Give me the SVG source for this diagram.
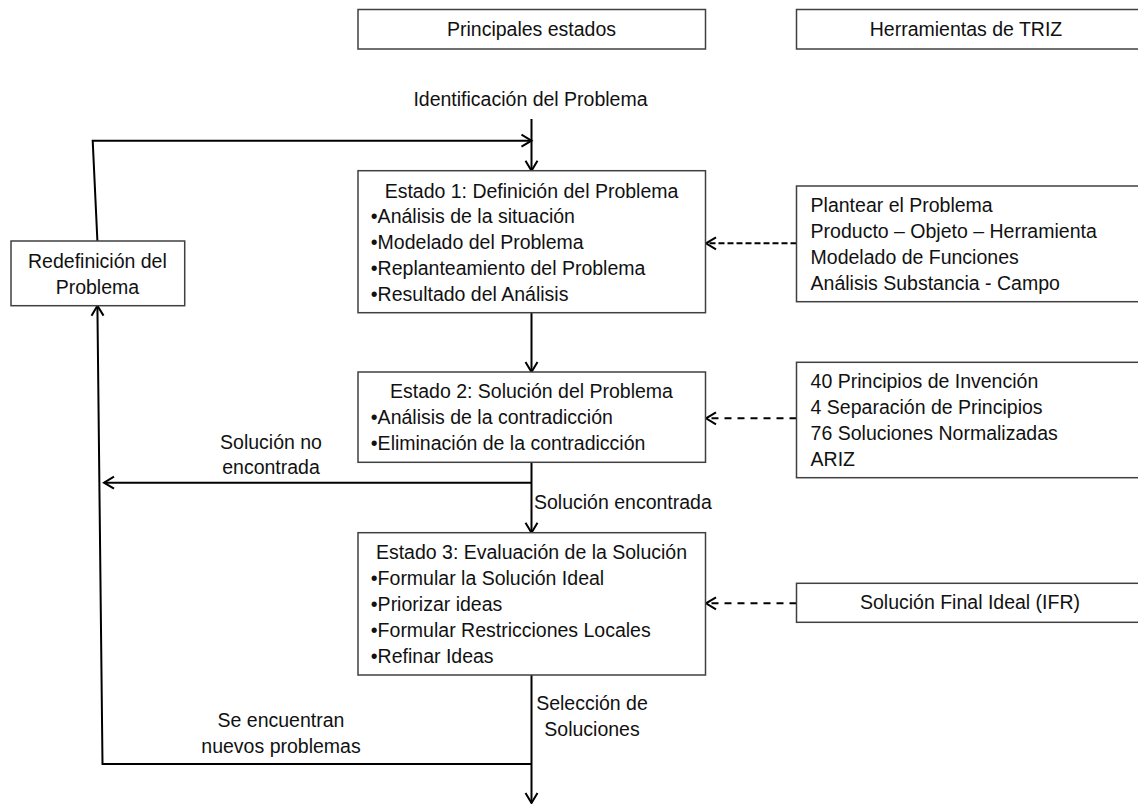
<svg xmlns="http://www.w3.org/2000/svg" width="1138" height="804" viewBox="0 0 1138 804">
  <style>
    .box { fill: #ffffff; stroke: #404040; stroke-width: 1.5; }
    .t { font-family: "Liberation Sans", Arial, sans-serif; font-size: 19.5px; fill: #111111; }
    .c { text-anchor: middle; }
    .line { fill: none; stroke: #000000; stroke-width: 2; }
    .dash1 { fill: none; stroke: #000000; stroke-width: 2; stroke-dasharray: 6 3; }
    .dash2 { fill: none; stroke: #000000; stroke-width: 2; stroke-dasharray: 7 6; }
  </style>
  <defs>
    <marker id="arrow" viewBox="-12 -8 14 16" refX="0" refY="0" markerWidth="14" markerHeight="16" markerUnits="userSpaceOnUse" orient="auto">
      <path d="M-10,-6 L0,0 L-10,6" fill="none" stroke="#000000" stroke-width="2"/>
    </marker>
  </defs>
  <rect width="1138" height="804" fill="#ffffff"/>

  <!-- column headers -->
  <g id="header-estados">
    <rect class="box" x="358" y="9.5" width="347.5" height="39.5"/>
    <text class="t c" x="531.5" y="35.5">Principales estados</text>
  </g>
  <g id="header-triz">
    <rect class="box" x="796.5" y="9.5" width="345" height="39.5"/>
    <text class="t c" x="966" y="35.5">Herramientas de TRIZ</text>
  </g>

  <!-- start label -->
  <g id="inicio">
    <text class="t c" x="530.5" y="106">Identificación del Problema</text>
  </g>

  <!-- connectors -->
  <g id="connectors">
    <path class="line" d="M531.5,119 L531.5,170.7" marker-end="url(#arrow)"/>
    <path class="line" d="M97.4,241 L92.7,140.7 L531.5,140.7" marker-end="url(#arrow)"/>
    <path class="line" d="M531.5,312.7 L531.5,372" marker-end="url(#arrow)"/>
    <path class="line" d="M531.5,462.3 L531.5,532.7" marker-end="url(#arrow)"/>
    <path class="line" d="M531.5,482.7 L104,482.7" marker-end="url(#arrow)"/>
    <path class="line" d="M531.5,764 L102.5,764 L97.4,305.7" marker-end="url(#arrow)"/>
    <path class="line" d="M531.5,675 L531.5,803" marker-end="url(#arrow)"/>
    <path class="dash1" d="M796.5,243.3 L706,243.3" marker-end="url(#arrow)"/>
    <path class="dash2" d="M796.5,418.3 L706,418.3" marker-end="url(#arrow)"/>
    <path class="dash2" d="M796.5,603.3 L706,603.3" marker-end="url(#arrow)"/>
  </g>

  <!-- connector labels -->
  <g id="labels">
    <text class="t c" x="271" y="448.7">Solución no</text>
    <text class="t c" x="271" y="474.3">encontrada</text>
    <text class="t" x="534" y="509.3">Solución encontrada</text>
    <text class="t c" x="592" y="710.3">Selección de</text>
    <text class="t c" x="592" y="736">Soluciones</text>
    <text class="t c" x="281" y="727">Se encuentran</text>
    <text class="t c" x="281" y="752.5">nuevos problemas</text>
  </g>

  <!-- feedback node -->
  <g id="redefinicion">
    <rect class="box" x="11" y="241" width="173.7" height="64.7"/>
    <text class="t c" x="97.4" y="267.7">Redefinición del</text>
    <text class="t c" x="97.4" y="293.7">Problema</text>
  </g>

  <!-- stage 1 -->
  <g id="estado1">
    <rect class="box" x="358" y="170.7" width="347.5" height="142"/>
    <text class="t c" x="531.5" y="197.7">Estado 1: Definición del Problema</text>
    <text class="t" x="370.8" y="223">•Análisis de la situación</text>
    <text class="t" x="370.8" y="249">•Modelado del Problema</text>
    <text class="t" x="370.8" y="275">•Replanteamiento del Problema</text>
    <text class="t" x="370.8" y="301">•Resultado del Análisis</text>
  </g>
  <g id="triz1">
    <rect class="box" x="796.5" y="186" width="345" height="115.7"/>
    <text class="t" x="810.6" y="212">Plantear el Problema</text>
    <text class="t" x="810.6" y="238">Producto – Objeto – Herramienta</text>
    <text class="t" x="810.6" y="264">Modelado de Funciones</text>
    <text class="t" x="810.6" y="290">Análisis Substancia - Campo</text>
  </g>

  <!-- stage 2 -->
  <g id="estado2">
    <rect class="box" x="358" y="372" width="347.5" height="90.3"/>
    <text class="t c" x="531.5" y="398.3">Estado 2: Solución del Problema</text>
    <text class="t" x="370.8" y="424.3">•Análisis de la contradicción</text>
    <text class="t" x="370.8" y="450.3">•Eliminación de la contradicción</text>
  </g>
  <g id="triz2">
    <rect class="box" x="796.5" y="362.3" width="345" height="115.4"/>
    <text class="t" x="810.6" y="388.3">40 Principios de Invención</text>
    <text class="t" x="810.6" y="414.3">4 Separación de Principios</text>
    <text class="t" x="810.6" y="440.3">76 Soluciones Normalizadas</text>
    <text class="t" x="810.6" y="466">ARIZ</text>
  </g>

  <!-- stage 3 -->
  <g id="estado3">
    <rect class="box" x="358" y="532.7" width="347.5" height="142.3"/>
    <text class="t c" x="531.5" y="559.3">Estado 3: Evaluación de la Solución</text>
    <text class="t" x="370.8" y="585">•Formular la Solución Ideal</text>
    <text class="t" x="370.8" y="611">•Priorizar ideas</text>
    <text class="t" x="370.8" y="637.3">•Formular Restricciones Locales</text>
    <text class="t" x="370.8" y="663.3">•Refinar Ideas</text>
  </g>
  <g id="triz3">
    <rect class="box" x="796.5" y="583.3" width="345" height="39"/>
    <text class="t c" x="970" y="609.3">Solución Final Ideal (IFR)</text>
  </g>
</svg>
